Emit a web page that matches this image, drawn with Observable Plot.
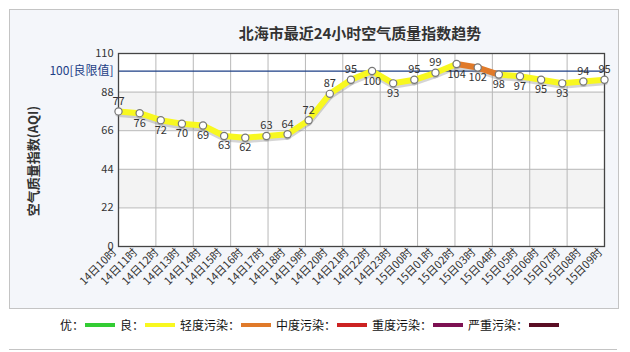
<!DOCTYPE html>
<html><head><meta charset="utf-8">
<script src="https://cdn.jsdelivr.net/npm/d3@7"></script>
<script src="https://cdn.jsdelivr.net/npm/@observablehq/plot@0.6"></script>
<style>
body{margin:0;background:#fff;width:630px;height:352px;overflow:hidden;position:relative;font-family:"Noto Sans CJK SC","DejaVu Sans",sans-serif;}
#panel{position:absolute;left:9px;top:9px;width:608px;height:298px;border:1px solid #c4c4c4;background:#f4f6fa;}
#bottom{position:absolute;left:9px;top:349px;width:608px;height:10px;border-top:1px solid #c4c4c4;}
#chart{position:absolute;left:0;top:0;}
#title{position:absolute;left:0;width:720px;top:22px;text-align:center;font-size:15px;font-weight:bold;color:#333;}
#ylab{position:absolute;left:32px;top:161px;transform:translate(-50%,-50%) rotate(-90deg);font-size:13px;font-weight:bold;color:#333;white-space:nowrap;}
#legend{position:absolute;left:60px;top:316px;font-size:12px;color:#111;white-space:nowrap;display:flex;align-items:center;}
#legend .sw{display:inline-block;width:30px;height:4px;margin:0 5px 0 1px;}
</style></head><body>
<div id="panel"></div>
<div id="bottom"></div>
<div id="chart"></div>
<div id="title">北海市最近24小时空气质量指数趋势</div>
<div id="ylab">空气质量指数(AQI)</div>
<div id="legend"></div>
<script>
const hours = ["14日10时","14日11时","14日12时","14日13时","14日14时","14日15时","14日16时","14日17时","14日18时","14日19时","14日20时","14日21时","14日22时","14日23时","15日00时","15日01时","15日02时","15日03时","15日04时","15日05时","15日06时","15日07时","15日08时","15日09时"];
const aqi = [77,76,72,70,69,63,62,63,64,72,87,95,100,93,95,99,104,102,98,97,95,93,94,95];
const labelAbove = [1,0,0,0,0,0,0,1,1,1,1,1,0,0,1,1,0,0,0,0,0,0,1,1];
const yTicks = [0,22,44,66,88,110];
const bands = [[22,44],[66,88]];
const limitValue = 100;
const limitLabel = "100[良限值]";
const levelNames = ["优","良","轻度污染","中度污染","重度污染","严重污染"];
const levelColors = ["#33cc33","#f8f820","#e07a2a","#cc2222","#7d1152","#5a0e24"];
const levelMax = [50,100,150,200,300,500];

const level = v => levelMax.findIndex(m => v <= m);
const pts = aqi.map((v,i)=>({i, v, label: hours[i], above: labelAbove[i]}));
const segs = pts.slice(0,-1).map((p,k)=>({x1:p.i,y1:p.v,x2:pts[k+1].i,y2:pts[k+1].v,c:levelColors[level(p.v)]}));
const n = hours.length - 1;
const gridX = d3.range(14).map(k => k*n/13);

const chart = Plot.plot({
  width: 630, height: 310,
  marginLeft: 118, marginRight: 26, marginTop: 53, marginBottom: 64,
  style: {background: "transparent", fontFamily: '"Noto Sans CJK SC","DejaVu Sans",sans-serif'},
  x: {type: "linear", domain: [0, n]},
  y: {domain: [0, 110]},
  marks: [
    Plot.frame({fill: "white", stroke: null}),
    Plot.rect(bands, {x1: () => 0, x2: () => n, y1: d => d[0], y2: d => d[1], fill: "#f3f3f3"}),
    Plot.ruleY(yTicks, {stroke: "#b8b8b8", strokeWidth: 1}),
    Plot.ruleX(gridX, {stroke: "#b8b8b8", strokeWidth: 1}),
    Plot.ruleY([limitValue], {stroke: "#1c3f86", strokeWidth: 1.3}),
    Plot.frame({stroke: "#444", strokeWidth: 1.3}),
    Plot.link(segs, {x1:"x1", y1:"y1", x2:"x2", y2:"y2", stroke: "#888", strokeOpacity: 0.35, strokeWidth: 7, dy: 2, strokeLinecap: "round"}),
    Plot.link(segs, {x1:"x1", y1:"y1", x2:"x2", y2:"y2", stroke: d => d.c, strokeWidth: 6, strokeLinecap: "round"}),
    Plot.dot(pts, {x: "i", y: "v", r: 3.6, fill: "white", stroke: "#777", strokeWidth: 1.2}),
    Plot.text(pts.filter(d=>d.above), {x: "i", y: "v", text: d => String(d.v), dy: -10, fontSize: 11, fill: "#333"}),
    Plot.text(pts.filter(d=>!d.above), {x: "i", y: "v", text: d => String(d.v), dy: 10, fontSize: 11, fill: "#333"}),
    Plot.axisY(yTicks, {tickSize: 0, tickPadding: 5, fontSize: 11, color: "#333", label: null}),
    Plot.text([limitValue], {y: d => d, frameAnchor: "left", dx: -5, textAnchor: "end", text: () => limitLabel, fill: "#1c3f86", fontSize: 12}),
    Plot.axisX(pts.map(d=>d.i), {tickSize: 0, tickPadding: 4, tickRotate: -45, tickFormat: i => hours[i], fontSize: 11, color: "#333", textAnchor: "end", label: null, dx: -4})
  ]
});
document.getElementById("chart").append(chart);

const lg = document.getElementById("legend");
levelNames.forEach((nm, k) => {
  const t = document.createElement("span"); t.textContent = nm + "："; lg.append(t);
  const s = document.createElement("span"); s.className = "sw"; s.style.background = levelColors[k]; lg.append(s);
});
</script>
</body></html>
